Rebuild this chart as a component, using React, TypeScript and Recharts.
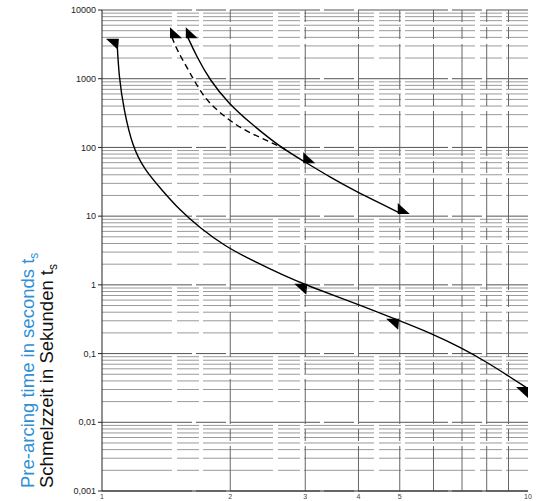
import React from "react";
import {
  ComposedChart,
  Line,
  Scatter,
  XAxis,
  YAxis,
  ReferenceLine,
} from "recharts";

// curve values (x: multiple of current, y: seconds)
const curveA = [
  { x: 1.084, y: 3700 },
  { x: 1.096, y: 1050 },
  { x: 1.126, y: 350 },
  { x: 1.18, y: 101 },
  { x: 1.26, y: 47 },
  { x: 1.37, y: 25.6 },
  { x: 1.52, y: 12.3 },
  { x: 1.7, y: 6.7 },
  { x: 1.94, y: 3.67 },
  { x: 2.29, y: 2.15 },
  { x: 2.69, y: 1.34 },
  { x: 3.0, y: 1.0 },
  { x: 4.03, y: 0.51 },
  { x: 4.93, y: 0.31 },
  { x: 5.98, y: 0.192 },
  { x: 6.92, y: 0.124 },
  { x: 8.0, y: 0.0752 },
  { x: 8.93, y: 0.0486 },
  { x: 9.95, y: 0.0315 },
];

const curveB = [
  { x: 1.59, y: 4000 },
  { x: 1.67, y: 2070 },
  { x: 1.79, y: 960 },
  { x: 1.98, y: 440 },
  { x: 2.23, y: 226 },
  { x: 2.62, y: 101 },
  { x: 3.0, y: 61 },
  { x: 3.43, y: 37 },
  { x: 3.97, y: 22.4 },
  { x: 4.49, y: 15.5 },
  { x: 5.0, y: 11.1 },
];

// dashed curve, joins curveB near x=2.7
const curveC = [
  { x: 1.46, y: 4000 },
  { x: 1.5, y: 2600 },
  { x: 1.61, y: 1210 },
  { x: 1.73, y: 540 },
  { x: 1.89, y: 317 },
  { x: 2.14, y: 179 },
  { x: 2.52, y: 116 },
  { x: 2.72, y: 90 },
];

const markersA = [
  { x: 1.084, y: 3700 },
  { x: 3.0, y: 1.0 },
  { x: 4.93, y: 0.31 },
  { x: 9.95, y: 0.0315 },
];

const markersB = [
  { x: 1.46, y: 4000 },
  { x: 1.59, y: 4000 },
  { x: 3.0, y: 61 },
  { x: 5.0, y: 11.1 },
];

const yTicks = [0.001, 0.01, 0.1, 1, 10, 100, 1000, 10000];
const xTicks = [1, 2, 3, 4, 5, 10];
const xGrid = [2, 3, 4, 5, 6, 7, 8, 9];
const decades = [0.001, 0.01, 0.1, 1, 10, 100, 1000];
const minorSteps = [2, 3, 4, 5, 6, 7, 8, 9];

const yMinor: number[] = [];
decades.forEach((d) => minorSteps.forEach((m) => yMinor.push(+(d * m).toPrecision(3))));

const fmt = (v: number) => String(v).replace(".", ",");

const TriA = (props: any) => {
  const { cx, cy } = props;
  if (cx == null || cy == null) return null;
  return (
    <polygon
      points={`${cx - 11},${cy - 1} ${cx + 2},${cy - 1} ${cx + 1},${cy + 10}`}
      fill="#000"
    />
  );
};

const TriB = (props: any) => {
  const { cx, cy } = props;
  if (cx == null || cy == null) return null;
  return (
    <polygon
      points={`${cx - 2},${cy - 10} ${cx - 2},${cy + 1} ${cx + 10},${cy + 1}`}
      fill="#000"
    />
  );
};

// x labels sit in the thin strip under the axis line
const XTick = (props: any) => {
  const { x, payload } = props;
  return (
    <text x={x} y={499} textAnchor="middle" fontSize={7} fill="#444">
      {payload.value}
    </text>
  );
};

export default function App() {
  return (
    <div style={{ position: "absolute", left: 0, top: 0, width: 541, height: 501, background: "#fff" }}>
      <ComposedChart
        width={541}
        height={501}
        margin={{ top: 10, right: 13, bottom: 0, left: 0 }}
        style={{ fontFamily: "Liberation Sans, Arial, sans-serif" }}
      >
        <XAxis
          type="number"
          dataKey="x"
          scale="log"
          domain={[1, 10]}
          ticks={xTicks}
          allowDataOverflow
          height={10}
          tickLine={false}
          axisLine={{ stroke: "#222" }}
          tick={<XTick />}
          interval={0}
        />
        <YAxis
          type="number"
          dataKey="y"
          scale="log"
          domain={[0.001, 10000]}
          ticks={yTicks}
          allowDataOverflow
          width={102}
          tickSize={4}
          interval={0}
          tickFormatter={fmt}
          axisLine={{ stroke: "#222" }}
          tickLine={{ stroke: "#222" }}
          tick={{ fontSize: 9, fill: "#222" }}
        />

        {yMinor.map((v) => (
          <ReferenceLine
            key={`ym-${v}`}
            y={v}
            stroke="#9a9a9a"
            strokeDasharray="70 5 22 4"
          />
        ))}
        {yTicks.map((v) => (
          <ReferenceLine key={`yd-${v}`} y={v} stroke="#555" strokeDasharray="90 4 30 4" />
        ))}
        {xGrid.map((v) => (
          <ReferenceLine
            key={`xg-${v}`}
            x={v}
            stroke="#666"
            strokeDasharray="45 5 12 5"
          />
        ))}

        <Line
          data={curveA}
          dataKey="y"
          type="basis"
          stroke="#000"
          strokeWidth={1.4}
          dot={false}
          isAnimationActive={false}
        />
        <Line
          data={curveB}
          dataKey="y"
          type="basis"
          stroke="#000"
          strokeWidth={1.4}
          dot={false}
          isAnimationActive={false}
        />
        <Line
          data={curveC}
          dataKey="y"
          type="basis"
          stroke="#000"
          strokeWidth={1.4}
          strokeDasharray="6 4"
          dot={false}
          isAnimationActive={false}
        />
        <Scatter data={markersA} dataKey="y" shape={<TriA />} isAnimationActive={false} />
        <Scatter data={markersB} dataKey="y" shape={<TriB />} isAnimationActive={false} />
      </ComposedChart>

      <svg
        width={80}
        height={501}
        style={{ position: "absolute", left: 0, top: 0, pointerEvents: "none" }}
        fontFamily="Liberation Sans, Arial, sans-serif"
      >
        <text x={34} y={488} transform="rotate(-90 34 488)" fontSize={18.5} fill="#2e8fd4">
          Pre-arcing time in seconds t
          <tspan dy={4} fontSize={12}>s</tspan>
        </text>
        <text x={53} y={488} transform="rotate(-90 53 488)" fontSize={18.5} fill="#111">
          Schmelzzeit in Sekunden t
          <tspan dy={4} fontSize={12}>s</tspan>
        </text>
      </svg>
    </div>
  );
}
